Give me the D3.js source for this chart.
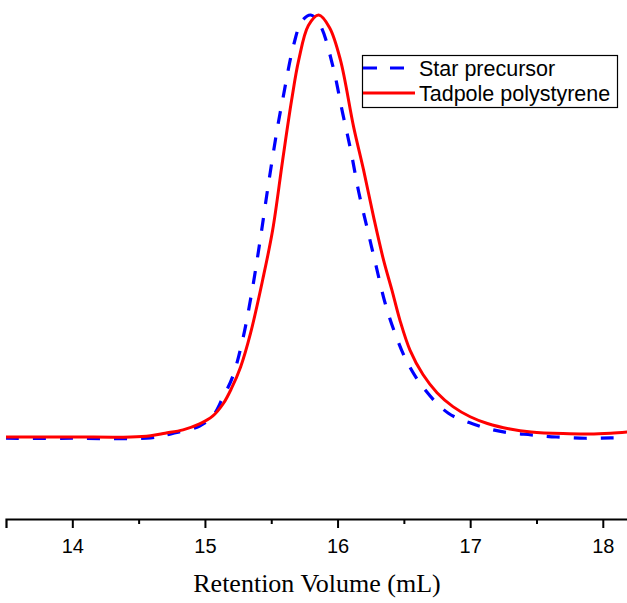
<!DOCTYPE html>
<html>
<head>
<meta charset="utf-8">
<script src="https://cdn.jsdelivr.net/npm/d3@7"></script>
<style>
  body { margin: 0; background: #fff; }
  svg { display: block; }
</style>
</head>
<body>
<svg id="chart"></svg>
<script>
// retention volume (mL) / relative intensity
var starVol = [13.5, 14.0, 14.59, 14.75, 14.96, 15.06, 15.133, 15.208, 15.284, 15.36, 15.42, 15.48, 15.548, 15.586, 15.669, 15.73, 15.798,
               15.87, 15.962, 16.038, 16.099, 16.16, 16.227, 16.287, 16.358, 16.433, 16.524, 16.644, 16.833, 17.05, 17.25, 17.46, 17.65, 17.87, 18.06, 18.19];
var starInt = [-0.003, -0.003, -0.002, 0.008, 0.026, 0.05, 0.092, 0.142, 0.23, 0.355, 0.474, 0.602, 0.735, 0.799, 0.929, 0.985, 1.0,
               0.975, 0.882, 0.768, 0.68, 0.58, 0.49, 0.41, 0.318, 0.246, 0.178, 0.118, 0.057, 0.028, 0.012, 0.005, 0.0, -0.003, -0.002, -0.002];

var tadVol = [13.5, 14.0, 14.44, 14.59, 14.7, 14.835, 14.96, 15.06, 15.14, 15.2, 15.269, 15.344, 15.435, 15.511, 15.586, 15.654, 15.707, 15.78, 15.858,
              15.94, 16.022, 16.121, 16.196, 16.272, 16.347, 16.41, 16.47, 16.546, 16.644, 16.75, 16.87, 17.0, 17.13, 17.3, 17.46, 17.7, 17.9, 18.06, 18.19];
var tadInt = [0, 0, 0, 0.003, 0.009, 0.017, 0.031, 0.05, 0.08, 0.115, 0.166, 0.246, 0.372, 0.491, 0.656, 0.799, 0.893, 0.975, 1.0,
              0.97, 0.893, 0.735, 0.633, 0.521, 0.419, 0.348, 0.277, 0.206, 0.148, 0.105, 0.072, 0.048, 0.032, 0.019, 0.012, 0.008, 0.007, 0.009, 0.012];

var seriesNames = ["Star precursor", "Tadpole polystyrene"];
var xTicks = [14, 14.5, 15, 15.5, 16, 16.5, 17, 17.5, 18];
var xTitle = "Retention Volume (mL)";

var width = 627, height = 603;

var svg = d3.select("#chart")
    .attr("width", width)
    .attr("height", height);

var x = d3.scaleLinear().domain([13.5, 18.19]).range([6, 628]);
var y = d3.scaleLinear().domain([0, 1]).range([437, 15]);

// x axis
var axisY = 519;
var gx = svg.append("g")
    .attr("transform", "translate(0," + axisY + ")")
    .call(d3.axisBottom(x)
        .tickValues(xTicks)
        .tickSizeOuter(0)
        .tickSize(9)
        .tickPadding(11)
        .tickFormat(function(d) { return d % 1 === 0 ? d : ""; }));

gx.select(".domain").attr("stroke", "#000").attr("stroke-width", 2.2);
gx.selectAll(".tick line")
    .attr("stroke", "#000")
    .attr("stroke-width", 2)
    .attr("y2", function(d) { return d % 1 === 0 ? 9 : 5; });
gx.selectAll(".tick text")
    .attr("fill", "#000")
    .style("font-family", "'Liberation Sans', Arial, sans-serif")
    .style("font-size", "20px");

svg.append("text")
    .attr("x", 317)
    .attr("y", 592)
    .attr("text-anchor", "middle")
    .style("font-family", "'Liberation Serif', 'Times New Roman', serif")
    .style("font-size", "26px")
    .text(xTitle);

var line = d3.line()
    .x(function(d) { return x(d[0]); })
    .y(function(d) { return y(d[1]); })
    .curve(d3.curveCatmullRom.alpha(0.5));

var starData = d3.zip(starVol, starInt);
var tadData = d3.zip(tadVol, tadInt);

svg.append("path")
    .datum(starData)
    .attr("fill", "none")
    .attr("stroke", "#0000ff")
    .attr("stroke-width", 3.2)
    .attr("stroke-dasharray", "13,14")
    .attr("d", line);

svg.append("path")
    .datum(tadData)
    .attr("fill", "none")
    .attr("stroke", "#ff0000")
    .attr("stroke-width", 3)
    .attr("d", line);

// legend
var legend = svg.append("g");
legend.append("rect")
    .attr("x", 362.5).attr("y", 55.5)
    .attr("width", 255).attr("height", 52)
    .attr("fill", "#fff")
    .attr("stroke", "#000")
    .attr("stroke-width", 1.2);

var legColors = ["#0000ff", "#ff0000"];
var legDash = ["14,13", null];
var legEnd = [405, 415];
seriesNames.forEach(function(name, i) {
    var ly = 68 + i * 25;
    legend.append("line")
        .attr("x1", 363).attr("x2", legEnd[i])
        .attr("y1", ly).attr("y2", ly)
        .attr("stroke", legColors[i])
        .attr("stroke-width", 3)
        .attr("stroke-dasharray", legDash[i]);
    legend.append("text")
        .attr("x", 419)
        .attr("y", ly + 8)
        .style("font-family", "'Liberation Sans', Arial, sans-serif")
        .style("font-size", "21.5px")
        .text(name);
});
</script>
</body>
</html>
